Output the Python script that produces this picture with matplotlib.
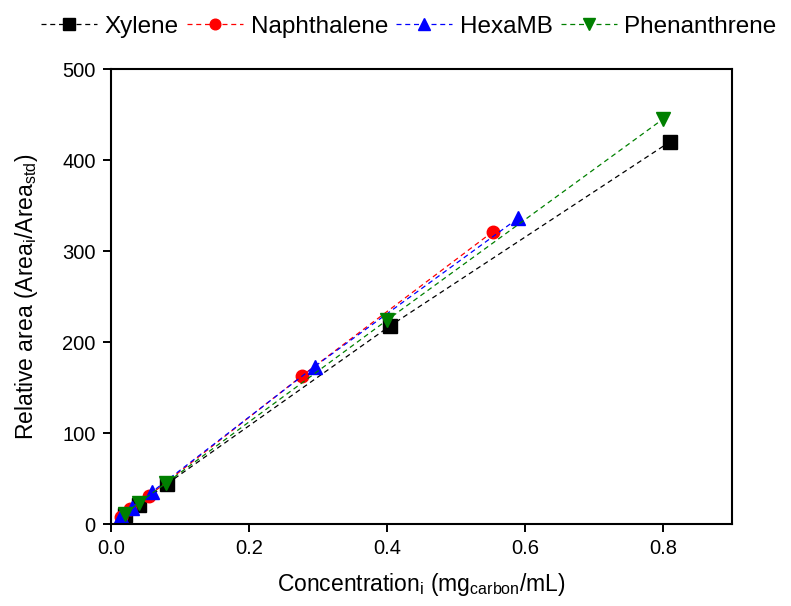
import matplotlib
matplotlib.use("Agg")
import matplotlib.pyplot as plt

plt.rcParams["font.family"] = ["Liberation Sans", "DejaVu Sans"]
plt.rcParams["mathtext.default"] = "regular"

# ── data ───────────────────────────────────────────────────────────────────
xylene_x = [0.0203, 0.0405, 0.081, 0.405, 0.81]
xylene_y = [10, 21, 44, 218, 420]
naph_x = [0.014, 0.028, 0.055, 0.277, 0.553]
naph_y = [8, 16, 31, 163, 321]
hexa_x = [0.015, 0.030, 0.059, 0.295, 0.59]
hexa_y = [9, 18, 35, 173, 336]
phen_x = [0.020, 0.040, 0.080, 0.400, 0.800]
phen_y = [11, 23, 45, 224, 445]

series = [
    ("Xylene", xylene_x, xylene_y, "black", "s"),
    ("Naphthalene", naph_x, naph_y, "red", "o"),
    ("HexaMB", hexa_x, hexa_y, "blue", "^"),
    ("Phenanthrene", phen_x, phen_y, "green", "v"),
]

fig = plt.figure(figsize=(7.91, 6.06), dpi=100)
ax = fig.add_axes([0.1403, 0.1353, 0.7851, 0.7508])

for name, x, y, c, m in series:
    ax.plot(x, y, linestyle=(0, (4, 3)), lw=0.9, color=c, marker=m,
            ms=9.5 if m != "o" else 9, mec=c, mfc=c, label=name)

ax.set_xlim(0, 0.9)
ax.set_ylim(0, 500)
ax.set_xticks([0.0, 0.2, 0.4, 0.6, 0.8])
ax.set_yticks([0, 100, 200, 300, 400, 500])
ax.tick_params(direction="out", length=6, width=1.4, labelsize=14.5, pad=5)
for s in ax.spines.values():
    s.set_linewidth(1.5)

ax.set_xlabel(r"Concentration$_{i}$ (mg$_{carbon}$/mL)", fontsize=16.5, labelpad=9)
ax.set_ylabel(r"Relative area (Area$_{i}$/Area$_{std}$)", fontsize=16.5, labelpad=16)

fig.legend(loc="upper right", bbox_to_anchor=(1.0, 0.998), ncol=4, frameon=False,
           prop={"family": ["Liberation Sans Narrow", "Liberation Sans"], "size": 17.5},
           handlelength=2.3, handletextpad=0.3, columnspacing=0.35,
           markerscale=0.85, borderaxespad=0.2)

fig.savefig("out.png", dpi=100)
